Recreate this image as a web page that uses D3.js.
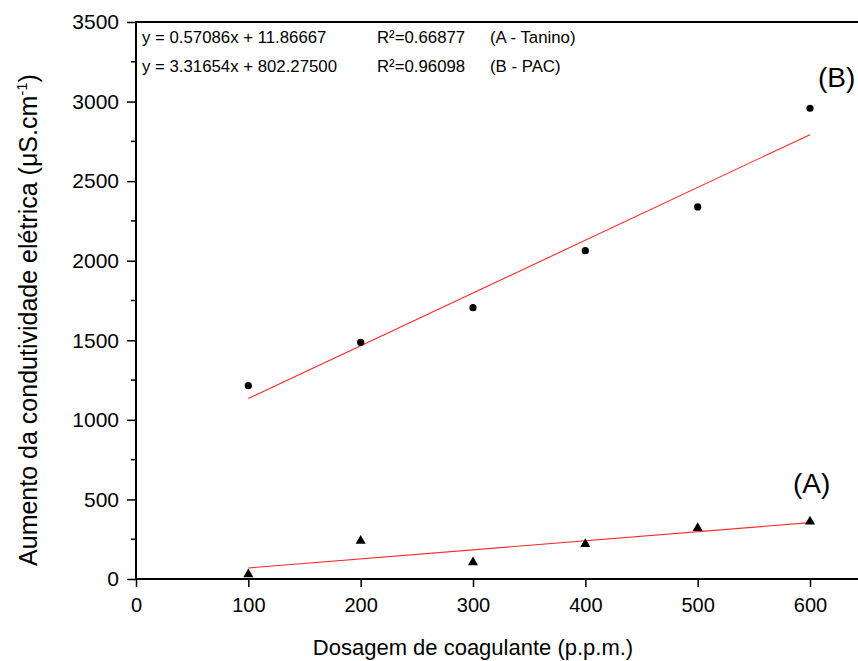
<!DOCTYPE html>
<html>
<head>
<meta charset="utf-8">
<script src="https://cdn.jsdelivr.net/npm/d3@7/dist/d3.min.js"></script>
<style>
  html, body { margin: 0; padding: 0; background: #fff; }
  svg { display: block; font-family: "Liberation Sans", Arial, sans-serif; }
</style>
</head>
<body>
<svg id="chart" width="858" height="661"></svg>
<script>
// Coagulant dose (ppm)
const doses = [100, 200, 300, 400, 500, 600];
// Conductivity increase (µS/cm) - tannin coagulant (A)
const tanino = [30, 240, 105, 220, 320, 361];
// Conductivity increase (µS/cm) - PAC coagulant (B)
const pac = [1215, 1487, 1705, 2063, 2338, 2958];

// Linear fits reported for each series
const fitA = { slope: 0.57086, intercept: 11.86667 };
const fitB = { slope: 3.31654, intercept: 802.27500 };

const xTicks = [0, 100, 200, 300, 400, 500, 600];
const yTicks = [0, 500, 1000, 1500, 2000, 2500, 3000, 3500];
const yMinorTicks = [250, 750, 1250, 1750, 2250, 2750, 3250];

const legendRows = [
  { eq: "y = 0.57086x + 11.86667", r2: "R²=0.66877", name: "(A - Tanino)" },
  { eq: "y = 3.31654x + 802.27500", r2: "R²=0.96098", name: "(B - PAC)" }
];

(function draw() {
  const svg = d3.select("#chart");
  const W = 858;
  const mLeft = 136, mTop = 22, mBottom = 579;

  const x = d3.scaleLinear().domain([0, 600]).range([mLeft, 810]);
  const y = d3.scaleLinear().domain([0, 3500]).range([mBottom, mTop]);

  // Fit lines
  const fitLine = d3.line().x(d => x(d[0])).y(d => y(d[1]));
  [fitA, fitB].forEach(f => {
    const pts = [doses[0], doses[doses.length - 1]].map(v => [v, f.slope * v + f.intercept]);
    svg.append("path")
      .attr("d", fitLine(pts))
      .attr("fill", "none")
      .attr("stroke", "#ff2a2a")
      .attr("stroke-width", 1.1);
  });

  // PAC points (circles)
  svg.append("g").selectAll("circle")
    .data(doses.map((d, i) => [d, pac[i]]))
    .join("circle")
    .attr("cx", d => x(d[0]))
    .attr("cy", d => y(d[1]))
    .attr("r", 3.6)
    .attr("fill", "#000");

  // Tannin points (triangles)
  const tri = d3.symbol().type(d3.symbolTriangle).size(44);
  svg.append("g").selectAll("path")
    .data(doses.map((d, i) => [d, tanino[i]]))
    .join("path")
    .attr("d", tri)
    .attr("transform", d => `translate(${x(d[0])},${y(d[1])})`)
    .attr("fill", "#000");

  // Axes
  const xAxis = d3.axisBottom(x).tickValues(xTicks).tickFormat(d3.format("d"))
    .tickSize(8).tickSizeOuter(0).tickPadding(11);
  const gx = svg.append("g").attr("transform", `translate(0,${mBottom})`).call(xAxis);
  gx.select(".domain").remove();
  gx.selectAll("line").attr("stroke", "#000").attr("stroke-width", 1.5);
  gx.selectAll("text").attr("font-size", 20).attr("fill", "#000")
    .attr("font-family", "Liberation Sans, Arial, sans-serif");

  const yAxis = d3.axisLeft(y).tickValues(yTicks).tickFormat(d3.format("d"))
    .tickSize(9).tickSizeOuter(0).tickPadding(8);
  const gy = svg.append("g").attr("transform", `translate(${mLeft},0)`).call(yAxis);
  gy.select(".domain").remove();
  gy.selectAll("line").attr("stroke", "#000").attr("stroke-width", 1.5);
  gy.selectAll("text").attr("font-size", 21).attr("fill", "#000")
    .attr("font-family", "Liberation Sans, Arial, sans-serif");

  svg.append("g").selectAll("line")
    .data(yMinorTicks)
    .join("line")
    .attr("x1", mLeft - 5).attr("x2", mLeft)
    .attr("y1", d => y(d)).attr("y2", d => y(d))
    .attr("stroke", "#000").attr("stroke-width", 1.5);

  // Frame: left, bottom and top lines
  svg.append("path")
    .attr("d", `M${W},${mTop}H${mLeft}V${mBottom}H${W}`)
    .attr("fill", "none")
    .attr("stroke", "#000")
    .attr("stroke-width", 2);

  // Fit legend
  const legend = svg.append("g").attr("font-size", 16.8).attr("fill", "#000");
  legendRows.forEach((r, i) => {
    const by = 43 + i * 29;
    legend.append("text").attr("x", 142).attr("y", by).text(r.eq);
    legend.append("text").attr("x", 377).attr("y", by).text(r.r2);
    legend.append("text").attr("x", 490).attr("y", by).text(r.name);
  });

  // Series labels
  svg.append("text").attr("x", 818).attr("y", 87).attr("font-size", 28).text("(B)");
  svg.append("text").attr("x", 793).attr("y", 493).attr("font-size", 28).text("(A)");

  // Axis titles
  svg.append("text")
    .attr("x", (mLeft + 810) / 2).attr("y", 655)
    .attr("text-anchor", "middle")
    .attr("font-size", 22)
    .text("Dosagem de coagulante (p.p.m.)");

  const yt = svg.append("text")
    .attr("transform", `translate(37,320) rotate(-90)`)
    .attr("text-anchor", "middle")
    .attr("font-size", 25);
  yt.append("tspan").text("Aumento da condutividade elétrica (μS.cm");
  yt.append("tspan").attr("dy", -10).attr("font-size", 15).text("-1");
  yt.append("tspan").attr("dy", 10).text(")");
})();
</script>
</body>
</html>
